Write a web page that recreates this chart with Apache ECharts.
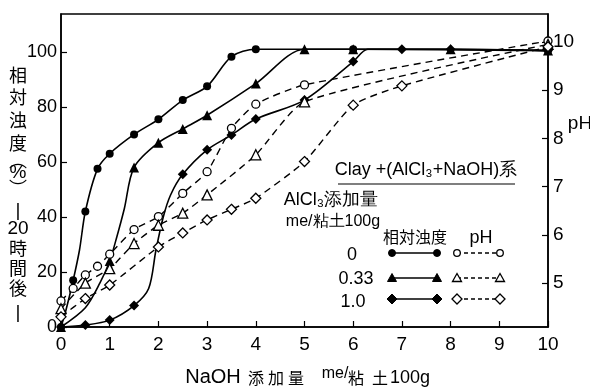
<!DOCTYPE html>
<html><head><meta charset="utf-8">
<script src="https://cdn.jsdelivr.net/npm/echarts@6/dist/echarts.min.js"></script>
<style>html,body{margin:0;padding:0;background:#fff}#c{width:590px;height:389px}</style>
</head><body><div id="c"></div>
<script>
// ---- data ----
const xTicks = [0,1,2,3,4,5,6,7,8,9,10];
const turbTicks = [0,20,40,60,80,100];
const phTicks = [5,6,7,8,9,10];

// relative turbidity (%) — measured points (markers)
const turb0   = [[0,0],[0.25,17],[0.5,42],[0.75,57.5],[1,63],[1.5,70],[2,75.5],[2.5,82.5],[3,87.5],[3.5,98.3],[4,101],[6,101],[10,100.5]];
const turb033 = [[0,0],[1,24],[1.5,58],[2,67],[2.5,72],[3,77],[4,88.5],[5,101],[6,101],[8,101],[10,100.5]];
const turb10  = [[0,0],[0.5,0.7],[1,2.5],[1.5,7.8],[2.5,55.5],[3,64.4],[3.5,69.8],[4,75.6],[5,82.5],[6,96.5],[7,101],[8,101],[10,100.5]];
// extra curve points (no markers)
const turb0Curve   = [[0.1,6],[0.38,28]];
const turb033Curve = [[0.5,7],[0.8,16],[1.15,33],[1.3,43]];
const turb10Curve  = [[1.8,14],[1.95,28],[2.1,40],[2.25,48],[6.3,101]];

// pH
const ph0   = [[0,4.63],[0.25,4.89],[0.5,5.17],[0.75,5.35],[1,5.6],[1.5,6.11],[2,6.38],[2.5,6.86],[3,7.31],[3.5,8.21],[4,8.71],[5,9.11],[10,10.02]];
const ph033 = [[0,4.47],[0.5,5.0],[1,5.3],[1.5,5.82],[2,6.2],[2.5,6.45],[3,6.83],[4,7.66],[5,8.76],[10,9.95]];
const ph10  = [[0,4.3],[0.5,4.68],[1,4.96],[2,5.75],[2.5,6.04],[3,6.31],[3.5,6.53],[4,6.76],[5,7.52],[6,8.69],[7,9.09],[10,9.9]];

const legendLevels = ['0','0.33','1.0'];

// ---- chart ----
const NARROW = "'Liberation Sans','Arial',sans-serif";
const CJK = "'Noto Sans CJK JP','Noto Sans CJK SC',sans-serif";

function build(pts, curve) {
  const items = pts.map(p => ({value: p}))
    .concat((curve || []).map(p => ({value: p, symbol: 'none'})));
  items.sort((a, b) => a.value[0] - b.value[0]);
  return items;
}
function solid(data, curve, sym, size) {
  return {type:'line', xAxisIndex:0, yAxisIndex:0, data: build(data, curve),
    smooth:0.3, symbol:sym, symbolSize:size, showAllSymbol:true,
    lineStyle:{color:'#000', width:1.6}, itemStyle:{color:'#000'}, z:3};
}
function dashed(data, sym, size) {
  return {type:'line', xAxisIndex:0, yAxisIndex:1, data: build(data),
    smooth:0.2, symbol:sym, symbolSize:size, showAllSymbol:true,
    lineStyle:{color:'#000', width:1.4, type:[7,5]},
    itemStyle:{color:'#fff', borderColor:'#000', borderWidth:1.3}, z:4};
}

const chart = echarts.init(document.getElementById('c'), null, {renderer:'canvas'});

const txt = (x, y, t, size, font) => ({type:'text', x, y,
  style:{text:t, fill:'#000', font:`${size}px ${font}`, textAlign:'center', textVerticalAlign:'middle'}});

const vchars = [['相',75],['対',97],['浊',120],['度',143],['︵',160],['%',173],['︶',188],['|',211],['20',229],['時',248],['間',268],['後',288],['|',313]];
const graphics = [];
vchars.forEach(([c, y]) => {
  const isDigit = /[0-9%|]/.test(c);
  graphics.push(txt(18, y, c, isDigit ? 19 : 18, isDigit ? NARROW : CJK));
});
// right axis name
graphics.push(txt(580, 124, 'pH', 19, NARROW));
// bottom axis name
graphics.push(txt(213, 377, 'NaOH', 20, NARROW));
graphics.push(txt(256, 378, '添', 16, CJK));
graphics.push(txt(276, 378, '加', 16, CJK));
graphics.push(txt(296, 378, '量', 16, CJK));
graphics.push(txt(335, 374, 'me/', 16, NARROW));
graphics.push(txt(356, 378, '粘', 16, CJK));
graphics.push(txt(380, 378, '土', 16, CJK));
graphics.push(txt(410, 378, '100g', 18, NARROW));

// legend block
graphics.push(txt(426, 170, 'Clay +(AlCl₃+NaOH)系', 18, NARROW));
graphics.push({type:'line', shape:{x1:338,y1:184,x2:515,y2:184}, style:{stroke:'#000', lineWidth:1.2}});
graphics.push(txt(331, 200, 'AlCl₃添加量', 18, NARROW));
graphics.push(txt(333, 222, 'me/粘土100g', 16, NARROW));
graphics.push(txt(415, 237, '相対浊度', 16, CJK));
graphics.push(txt(481, 238, 'pH', 18, NARROW));
const legY = [253, 278, 299];
graphics.push(txt(352, 255, legendLevels[0], 18, NARROW));
graphics.push(txt(356, 279, legendLevels[1], 18, NARROW));
graphics.push(txt(353, 302, legendLevels[2], 18, NARROW));
function mark(kind, cx, cy, filled) {
  const style = filled ? {fill:'#000', stroke:'#000', lineWidth:1} : {fill:'#fff', stroke:'#000', lineWidth:1.3};
  if (kind === 'c') return {type:'circle', shape:{cx, cy, r: filled ? 3.5 : 3.3}, style, z:10};
  if (kind === 't') return {type:'polygon', shape:{points:[[cx,cy-4.5],[cx+4.5,cy+3.5],[cx-4.5,cy+3.5]]}, style, z:10};
  return {type:'polygon', shape:{points:[[cx,cy-5],[cx+5,cy],[cx,cy+5],[cx-5,cy]]}, style, z:10};
}
['c','t','d'].forEach((k, i) => {
  const y = legY[i];
  graphics.push({type:'line', shape:{x1:392,y1:y,x2:437,y2:y}, style:{stroke:'#000', lineWidth:1.6}});
  graphics.push(mark(k, 392, y, true), mark(k, 437, y, true));
  graphics.push({type:'line', shape:{x1:457,y1:y,x2:500,y2:y}, style:{stroke:'#000', lineWidth:1.3, lineDash:[4,3]}});
  graphics.push(mark(k, 457, y, false), mark(k, 500, y, false));
});

const option = {
  animation:false,
  backgroundColor:'#fff',
  grid:{left:61, right:42, top:14, bottom:62, show:true, borderColor:'#000', borderWidth:1.5, backgroundColor:'transparent'},
  xAxis:{type:'value', min:0, max:10,
    axisLine:{lineStyle:{color:'#000', width:1.5}},
    axisTick:{inside:true, length:6, lineStyle:{color:'#000', width:1.2}, customValues:xTicks},
    axisLabel:{color:'#000', fontSize:19, fontFamily:NARROW, margin:8, customValues:xTicks},
    splitLine:{show:false}},
  yAxis:[
    {type:'value', min:0, max:113.8, position:'left',
      axisLine:{show:true, lineStyle:{color:'#000', width:1.5}},
      axisTick:{show:true, inside:true, length:6, lineStyle:{color:'#000', width:1.2}, customValues:turbTicks},
      axisLabel:{color:'#000', fontSize:18, fontFamily:NARROW, margin:4, customValues:turbTicks},
      splitLine:{show:false}},
    {type:'value', min:4.09, max:10.58, position:'right',
      axisLine:{show:true, lineStyle:{color:'#000', width:1.5}},
      axisTick:{show:true, inside:true, length:6, lineStyle:{color:'#000', width:1.2}, customValues:phTicks},
      axisLabel:{color:'#000', fontSize:19, fontFamily:NARROW, margin:5, customValues:phTicks},
      splitLine:{show:false}}
  ],
  series:[
    solid(turb0, turb0Curve, 'circle', 8),
    solid(turb033, turb033Curve, 'triangle', 10),
    solid(turb10, turb10Curve, 'diamond', 10),
    dashed(ph0, 'circle', 8),
    dashed(ph033, 'triangle', 10),
    dashed(ph10, 'diamond', 10)
  ],
  graphic: graphics
};
chart.setOption(option);
</script>
</body></html>
